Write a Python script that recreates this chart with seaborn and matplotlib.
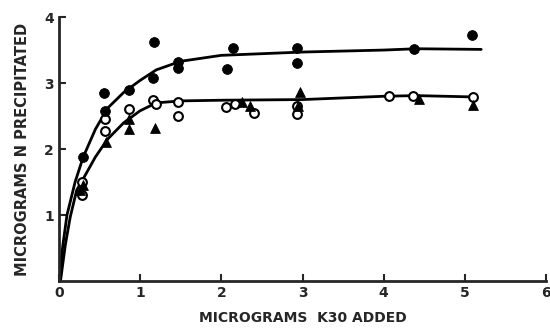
import numpy as np
import pandas as pd
import seaborn as sns
import matplotlib.pyplot as plt

sns.set_style("ticks")
plt.rcParams["font.family"] = ["DejaVu Sans"]
plt.rcParams["font.weight"] = "bold"

# filled circles
fill_x = [0.30, 0.56, 0.57, 0.86, 1.16, 1.17, 1.47, 1.47, 2.07, 2.15, 2.93, 2.93, 4.37, 5.09]
fill_y = [1.88, 2.85, 2.57, 2.90, 3.08, 3.62, 3.32, 3.23, 3.22, 3.53, 3.53, 3.30, 3.52, 3.73]

# open circles
open_x = [0.28, 0.28, 0.57, 0.57, 0.86, 1.16, 1.20, 1.47, 1.47, 2.06, 2.17, 2.40, 2.93, 2.93, 4.07, 4.36, 5.10]
open_y = [1.30, 1.50, 2.46, 2.27, 2.60, 2.75, 2.68, 2.72, 2.50, 2.64, 2.68, 2.54, 2.65, 2.53, 2.80, 2.80, 2.79]

# triangles
tri_x = [0.26, 0.30, 0.58, 0.86, 0.86, 1.18, 2.26, 2.35, 2.97, 2.95, 4.43, 5.10]
tri_y = [1.38, 1.45, 2.10, 2.30, 2.45, 2.32, 2.71, 2.66, 2.87, 2.65, 2.76, 2.67]

# hand-drawn fit curves
up_x = [0, 0.05, 0.1, 0.2, 0.3, 0.45, 0.6, 0.8, 1.0, 1.2, 1.5, 2.0, 3.0, 4.0, 4.4, 5.2]
up_y = [0, 0.55, 1.0, 1.50, 1.88, 2.30, 2.62, 2.86, 3.04, 3.20, 3.33, 3.42, 3.47, 3.50, 3.52, 3.51]
low_x = [0.02, 0.08, 0.14, 0.22, 0.3, 0.45, 0.6, 0.8, 1.0, 1.2, 1.5, 2.0, 3.0, 4.0, 4.4, 5.1]
low_y = [0, 0.55, 0.97, 1.38, 1.55, 1.88, 2.15, 2.40, 2.58, 2.70, 2.73, 2.74, 2.75, 2.80, 2.81, 2.79]

fig = plt.figure(figsize=(5.5, 3.28), dpi=100, facecolor="white")
ax = fig.add_axes([0.107, 0.143, 0.886, 0.805])

sns.lineplot(x=up_x, y=up_y, ax=ax, color="black", lw=2, sort=False)
sns.lineplot(x=low_x, y=low_y, ax=ax, color="black", lw=2, sort=False)

sns.scatterplot(x=open_x, y=open_y, ax=ax, marker="o", s=40,
                facecolor="white", edgecolor="black", linewidth=1.5, zorder=3)
sns.scatterplot(x=tri_x, y=tri_y, ax=ax, marker="^", s=50,
                color="black", edgecolor="black", zorder=4)
sns.scatterplot(x=fill_x, y=fill_y, ax=ax, marker="o", s=50,
                color="black", edgecolor="black", zorder=5)

ax.set_xlim(0, 6)
ax.set_ylim(0, 4)
ax.set_xticks(range(0, 7))
ax.set_yticks([1, 2, 3, 4])
ax.tick_params(direction="in", length=5, width=1.5, labelsize=10)
for lab in ax.get_xticklabels() + ax.get_yticklabels():
    lab.set_fontweight("bold")
ax.spines["right"].set_visible(False)
ax.spines["top"].set_visible(False)
ax.spines["left"].set_linewidth(2)
ax.spines["bottom"].set_linewidth(2)
ax.set_xlabel("MICROGRAMS  K30 ADDED", fontsize=10, fontweight="bold", labelpad=8)
ax.set_ylabel("MICROGRAMS N PRECIPITATED", fontsize=10.5, fontweight="bold", labelpad=10)

fig.savefig("out.png", dpi=100, facecolor="white")
